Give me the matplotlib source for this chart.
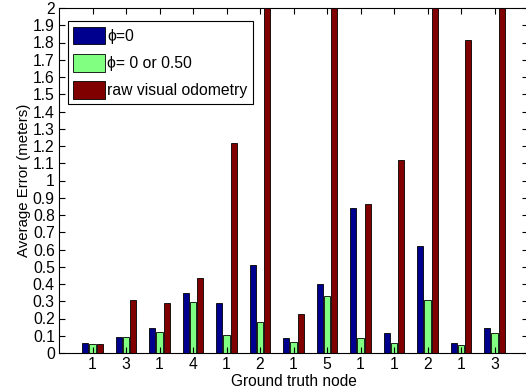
import matplotlib.pyplot as plt
import numpy as np

plt.rcParams['font.family'] = ['Liberation Sans', 'DejaVu Sans']

node_labels = ['1', '3', '1', '4', '1', '2', '1', '5', '1', '1', '2', '1', '3']
phi_zero = [0.06, 0.094, 0.143, 0.346, 0.288, 0.513, 0.085, 0.398, 0.842, 0.114, 0.618, 0.056, 0.145]
phi_zero_or_half = [0.052, 0.09, 0.123, 0.298, 0.106, 0.182, 0.062, 0.33, 0.085, 0.056, 0.307, 0.045, 0.116]
raw_vo = [0.054, 0.306, 0.288, 0.434, 1.216, 2.6, 0.224, 2.6, 0.866, 1.119, 2.6, 1.812, 2.6]

fig = plt.figure(figsize=(5.26, 3.89), dpi=100)
ax = fig.add_axes([59 / 526, 1 - 353 / 389, (528 - 59) / 526, (353 - 8) / 389])

x = np.arange(1, len(node_labels) + 1)
w = 0.18
off = 0.22
kw = dict(width=w, edgecolor='black', linewidth=0.6)
ax.bar(x - off, phi_zero, color='#00008f', label='ϕ=0', **kw)
ax.bar(x, phi_zero_or_half, color='#80ff80', label='ϕ= 0 or 0.50', **kw)
ax.bar(x + off, raw_vo, color='#800000', label='raw visual odometry', **kw)

ax.set_xlim(0, 14)
ax.set_ylim(0, 2)
ax.set_xticks(x)
ax.set_xticklabels(node_labels)
ax.set_yticks(np.round(np.arange(0, 2.01, 0.1), 1))
ax.set_yticklabels(['0', '0.1', '0.2', '0.3', '0.4', '0.5', '0.6', '0.7', '0.8', '0.9', '1',
                    '1.1', '1.2', '1.3', '1.4', '1.5', '1.6', '1.7', '1.8', '1.9', '2'])
ax.tick_params(direction='in', top=True, right=True, labelsize=11.3, length=4, pad=3)
ax.set_xlabel('Ground truth node', fontsize=11.2, labelpad=1)
ax.set_ylabel('Average Error (meters)', fontsize=10.8, labelpad=1)

leg = ax.legend(loc='upper left', bbox_to_anchor=(0.019, 0.962), fontsize=11.3,
                handlelength=2.0, handleheight=1.35, handletextpad=0.15,
                labelspacing=0.62, borderpad=0.35, borderaxespad=0,
                fancybox=False, framealpha=1, edgecolor='black')
leg.get_frame().set_linewidth(0.8)

fig.savefig('out.png', dpi=100)
